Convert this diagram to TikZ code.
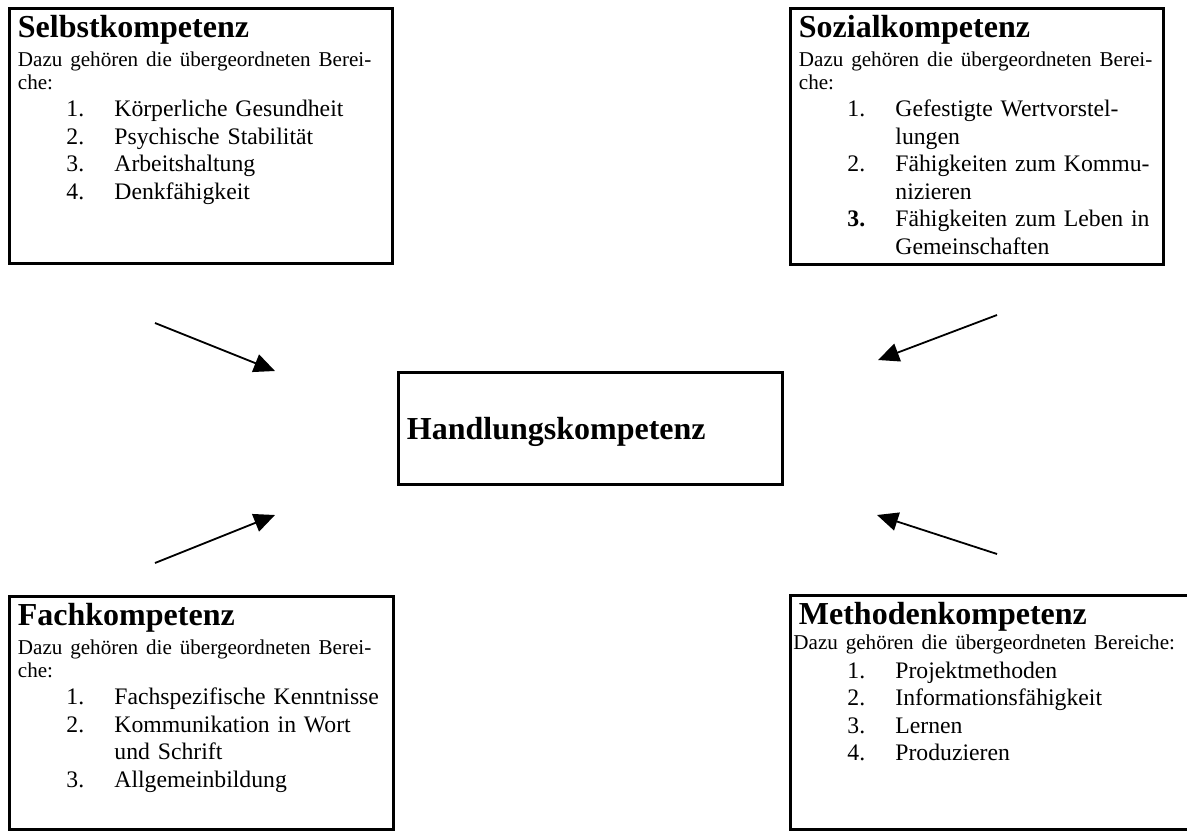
\documentclass[tikz,border=0pt]{standalone}
\usepackage{fontspec}
\setmainfont{Liberation Serif}
\usetikzlibrary{arrows.meta}

\newcommand{\kopf}{\fontsize{16}{16}\selectfont\bfseries}
\newcommand{\einl}{\fontsize{10.55}{12}\selectfont}
\newcommand{\liste}{\fontsize{11.85}{13.75}\selectfont}
\newcommand{\zl}[2][0pt]{\vskip#1\hbox{#2}}
\newcommand{\punkt}[2]{\hspace*{24.25pt}\makebox[24pt][l]{#1}#2}

\tikzset{
  kasten/.style 2 args={draw, line width=1.4pt, anchor=north west,
    inner xsep=4.25pt, inner ysep=4pt, font=\liste,
    text width=#1*0.5pt-8.5pt, text height=10.75pt,
    text depth=#2*0.5pt-18.75pt}
}

\begin{document}
\begin{tikzpicture}[x=0.5pt, y=-0.5pt, >={Triangle[length=10.5pt, width=9.3pt]}]
  \path[use as bounding box, clip] (0,0) rectangle (1187,830);
  \fill[white] (0,0) rectangle (1187,830);

  \node[kasten={383}{255}] (selbst) at (8,7) {\vtop{\liste
    \hbox{\kopf Selbstkompetenz}
    \zl[0.4pt]{\einl Dazu gehören die übergeordneten Berei-}
    \zl[-2.25pt]{\einl che:}
    \zl[0.1pt]{\punkt{1.}{Körperliche Gesundheit}}
    \zl{\punkt{2.}{Psychische Stabilität}}
    \zl{\punkt{3.}{Arbeitshaltung}}
    \zl{\punkt{4.}{Denkfähigkeit}}}};

  \node[kasten={373}{256}] (sozial) at (789,7) {\vtop{\liste
    \hbox{\kopf Sozialkompetenz}
    \zl[0.4pt]{\einl Dazu gehören die übergeordneten Berei-}
    \zl[-2.25pt]{\einl che:}
    \zl[0.1pt]{\punkt{1.}{Gefestigte Wertvorstel-}}
    \zl{\punkt{}{lungen}}
    \zl{\punkt{2.}{Fähigkeiten zum Kommu-}}
    \zl{\punkt{}{nizieren}}
    \zl{\punkt{\textbf{3.}}{Fähigkeiten zum Leben in}}
    \zl{\punkt{}{Gemeinschaften}}}};

  \node[kasten={384}{233}] (fach) at (8,595) {\vtop{\liste
    \hbox{\kopf Fachkompetenz}
    \zl[0.4pt]{\einl Dazu gehören die übergeordneten Berei-}
    \zl[-2.25pt]{\einl che:}
    \zl[0.1pt]{\punkt{1.}{Fachspezifische Kenntnisse}}
    \zl{\punkt{2.}{Kommunikation in Wort}}
    \zl{\punkt{}{und Schrift}}
    \zl{\punkt{3.}{Allgemeinbildung}}}};

  \node[kasten={406}{234}] (methode) at (789,594) {\vtop{\liste
    \hbox{\kopf Methodenkompetenz}
    \zl[-1.55pt]{\einl\hspace*{-2.75pt}Dazu gehören die übergeordneten Bereiche:}
    \zl[0.75pt]{\punkt{1.}{Projektmethoden}}
    \zl{\punkt{2.}{Informationsfähigkeit}}
    \zl{\punkt{3.}{Lernen}}
    \zl{\punkt{4.}{Produzieren}}}};

  \node[kasten={384}{112}, text height=29.5pt, text depth=18.5pt] (handlung) at (397,371)
    {\hbox{\kopf Handlungskompetenz}};

  % Pfeile zur Mitte
  \coordinate (selbstA) at (155,323);  \coordinate (selbstB) at (275,371);
  \coordinate (fachA) at (155,563);    \coordinate (fachB) at (275,515);
  \coordinate (sozialA) at (997,315);  \coordinate (sozialB) at (878,360);
  \coordinate (methodeA) at (997,554); \coordinate (methodeB) at (877,515);

  \path[->, line width=0.9pt]
    (selbstA) edge (selbstB)
    (fachA) edge (fachB)
    (sozialA) edge (sozialB)
    (methodeA) edge (methodeB);
\end{tikzpicture}
\end{document}
